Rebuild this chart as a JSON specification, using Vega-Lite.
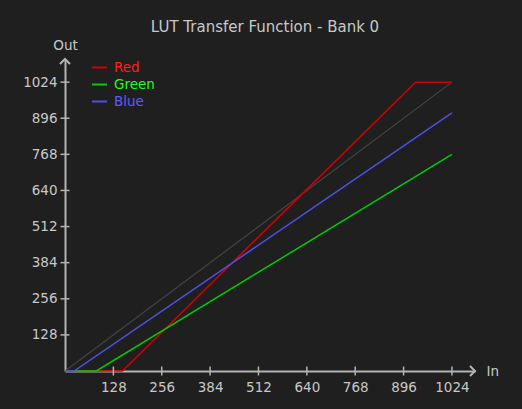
{
  "$schema": "https://vega.github.io/schema/vega-lite/v6.json",
  "width": 410,
  "height": 312,
  "autosize": {"type": "none"},
  "padding": {"left": 65, "top": 59, "right": 47, "bottom": 38},
  "background": "#1f1f1f",
  "title": {
    "text": "LUT Transfer Function - Bank 0",
    "color": "#c8c8c8",
    "fontSize": 15,
    "fontWeight": "normal",
    "font": "DejaVu Sans",
    "anchor": "middle",
    "frame": "group",
    "dx": -5,
    "offset": 3
  },
  "config": {
    "view": {"stroke": null},
    "font": "DejaVu Sans"
  },
  "datasets": {
    "lut": [
      {"series": "Red", "in": 0, "out": 0},
      {"series": "Red", "in": 152, "out": 0},
      {"series": "Red", "in": 928, "out": 1024},
      {"series": "Red", "in": 1024, "out": 1024},
      {"series": "Green", "in": 0, "out": 0},
      {"series": "Green", "in": 83, "out": 0},
      {"series": "Green", "in": 1024, "out": 768},
      {"series": "Blue", "in": 0, "out": 0},
      {"series": "Blue", "in": 24, "out": 0},
      {"series": "Blue", "in": 1024, "out": 915}
    ],
    "diag": [
      {"in": 0, "out": 0},
      {"in": 1024, "out": 1024}
    ],
    "xt": [
      {"in": 128, "out": 0}, {"in": 256, "out": 0}, {"in": 384, "out": 0}, {"in": 512, "out": 0},
      {"in": 640, "out": 0}, {"in": 768, "out": 0}, {"in": 896, "out": 0}, {"in": 1024, "out": 0}
    ],
    "yt": [
      {"in": 0, "out": 128}, {"in": 0, "out": 256}, {"in": 0, "out": 384}, {"in": 0, "out": 512},
      {"in": 0, "out": 640}, {"in": 0, "out": 768}, {"in": 0, "out": 896}, {"in": 0, "out": 1024}
    ],
    "ax": [{"in": 1085, "out": 0}],
    "ay": [{"in": 0, "out": 1106}]
  },
  "encoding": {
    "x": {
      "field": "in",
      "type": "quantitative",
      "scale": {"domain": [0, 1085], "nice": false, "zero": false},
      "axis": {
        "title": "In",
        "titleX": 421,
        "titleY": 0,
        "titleAlign": "left",
        "titleBaseline": "middle",
        "titleAngle": 0,
        "titleFontSize": 13.5,
        "titleFontWeight": "normal",
        "titleColor": "#c8c8c8",
        "values": [128, 256, 384, 512, 640, 768, 896, 1024],
        "format": "d",
        "grid": false,
        "ticks": false,
        "domainColor": "#b4b4b4",
        "domainWidth": 2,
        "labelColor": "#c8c8c8",
        "labelFontSize": 13.5,
        "labelPadding": 9
      }
    },
    "y": {
      "field": "out",
      "type": "quantitative",
      "scale": {"domain": [0, 1106], "nice": false, "zero": false},
      "axis": {
        "title": "Out",
        "titleX": 0,
        "titleY": -14,
        "titleAlign": "center",
        "titleBaseline": "middle",
        "titleAngle": 0,
        "titleFontSize": 13.5,
        "titleFontWeight": "normal",
        "titleColor": "#c8c8c8",
        "values": [128, 256, 384, 512, 640, 768, 896, 1024],
        "format": "d",
        "grid": false,
        "ticks": false,
        "domainColor": "#b4b4b4",
        "domainWidth": 2,
        "labelColor": "#c8c8c8",
        "labelFontSize": 13.5,
        "labelPadding": 8
      }
    }
  },
  "layer": [
    {
      "data": {"name": "diag"},
      "mark": {"type": "line", "color": "#444444", "strokeWidth": 1.2},
      "encoding": {}
    },
    {
      "data": {"name": "lut"},
      "mark": {"type": "line", "strokeWidth": 1.5},
      "encoding": {
        "color": {
          "field": "series",
          "type": "nominal",
          "sort": ["Red", "Green", "Blue"],
          "scale": {"domain": ["Red", "Green", "Blue"], "range": ["#d40000", "#00cc00", "#4f4fe6"]},
          "legend": {
            "orient": "none",
            "legendX": 26,
            "legendY": 0,
            "title": null,
            "padding": 0,
            "labelFontSize": 13.5,
            "labelFont": "DejaVu Sans",
            "symbolType": "stroke",
            "symbolSize": 225,
            "symbolStrokeWidth": 2,
            "labelOffset": 6,
            "rowPadding": 2,
            "encode": {
              "labels": {"update": {"fill": {"signal": "datum.value === 'Red' ? '#ff1e1e' : datum.value === 'Green' ? '#1eff1e' : '#5c5cff'"}}}
            }
          }
        }
      }
    },
    {
      "data": {"name": "xt"},
      "mark": {"type": "tick", "orient": "vertical", "size": 9, "thickness": 1.5, "color": "#b4b4b4", "opacity": 1},
      "encoding": {}
    },
    {
      "data": {"name": "yt"},
      "mark": {"type": "tick", "orient": "horizontal", "size": 9, "thickness": 1.5, "color": "#b4b4b4", "opacity": 1},
      "encoding": {}
    },
    {
      "data": {"name": "ax"},
      "mark": {"type": "point", "shape": "M-1,-1L0,0L-1,1", "filled": false, "size": 100, "strokeWidth": 2, "color": "#b4b4b4", "opacity": 1},
      "encoding": {}
    },
    {
      "data": {"name": "ay"},
      "mark": {"type": "point", "shape": "M-1,1L0,0L1,1", "filled": false, "size": 100, "strokeWidth": 2, "color": "#b4b4b4", "opacity": 1},
      "encoding": {}
    }
  ]
}
